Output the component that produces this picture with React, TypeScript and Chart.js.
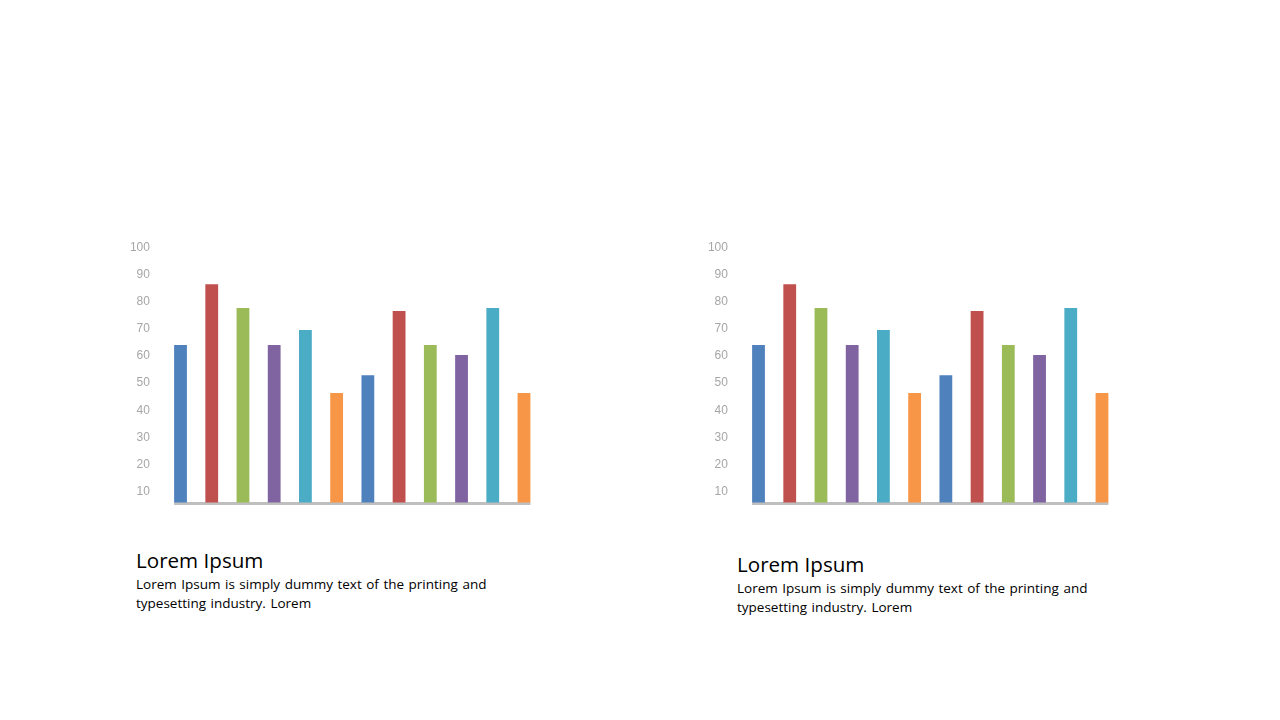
import { useEffect, useRef } from 'react';
import { Chart, registerables } from 'chart.js';

Chart.register(...registerables);

// data
const categories = ['1', '2', '3', '4', '5', '6', '7', '8', '9', '10', '11', '12'];
const leftValues = [64, 86.4, 77.6, 64, 69.5, 46.3, 52.9, 76.5, 64, 60.3, 77.6, 46.3];
const rightValues = [64, 86.4, 77.6, 64, 69.5, 46.3, 52.9, 76.5, 64, 60.3, 77.6, 46.3];
const yTicks = [10, 20, 30, 40, 50, 60, 70, 80, 90, 100];
const yMin = 6;
const yMax = 100;

const palette = ['#4F81BD', '#C0504D', '#9BBB59', '#8064A2', '#4BACC6', '#F79646'];

const titleText = 'Lorem Ipsum';
const bodyLine1 = 'Lorem Ipsum is simply dummy text of the printing and';
const bodyLine2 = 'typesetting industry. Lorem';

// grey base line under the bars, spanning first bar to last bar
const baseLine = {
  id: 'baseLine',
  beforeDatasetsDraw(chart: any) {
    const meta = chart.getDatasetMeta(0);
    if (!meta.data.length) return;
    const first = meta.data[0];
    const last = meta.data[meta.data.length - 1];
    const x0 = first.x - first.width / 2;
    const x1 = last.x + last.width / 2;
    const y = chart.chartArea.bottom;
    const ctx = chart.ctx;
    ctx.save();
    ctx.fillStyle = '#bfbfbf';
    ctx.fillRect(x0, y - 0.5, x1 - x0, 3);
    ctx.restore();
  },
};

interface BarsProps {
  values: number[];
  left: number;
}

const Bars: React.FC<BarsProps> = ({ values, left }) => {
  const chartRef = useRef<HTMLCanvasElement>(null);
  const chartInstanceRef = useRef<Chart | null>(null);

  useEffect(() => {
    if (chartInstanceRef.current) {
      chartInstanceRef.current.destroy();
    }
    if (!chartRef.current) return;
    const ctx = chartRef.current.getContext('2d');
    if (!ctx) return;

    chartInstanceRef.current = new Chart(ctx, {
      type: 'bar',
      data: {
        labels: categories,
        datasets: [
          {
            data: values,
            backgroundColor: categories.map((_, i) => palette[i % palette.length]),
            categoryPercentage: 1,
            barPercentage: 0.41,
          },
        ],
      },
      options: {
        animation: false,
        responsive: true,
        maintainAspectRatio: false,
        layout: { padding: { top: 17.3, bottom: 17.5, left: 0, right: 10.4 } },
        plugins: {
          legend: { display: false },
          tooltip: { enabled: false },
        },
        scales: {
          x: { display: false },
          y: {
            min: yMin,
            max: yMax,
            grid: { display: false, drawTicks: false },
            border: { display: false },
            afterBuildTicks: (axis: any) => {
              axis.ticks = yTicks.map((v) => ({ value: v }));
            },
            afterFit: (axis: any) => {
              // fixed label column; layout padding handles top/bottom room
              axis.width = 64.9;
              axis.paddingTop = 0;
              axis.paddingBottom = 0;
            },
            ticks: {
              padding: 15,
              color: '#a6a6a6',
              font: { family: '"Liberation Sans", Arial, sans-serif', size: 12 },
            },
          },
        },
      },
      plugins: [baseLine],
    });

    return () => {
      if (chartInstanceRef.current) {
        chartInstanceRef.current.destroy();
        chartInstanceRef.current = null;
      }
    };
  }, [values]);

  return (
    <div style={{ position: 'absolute', left, top: 230, width: 450, height: 290 }}>
      <canvas ref={chartRef}></canvas>
    </div>
  );
};

interface CaptionProps {
  left: number;
  top: number;
}

const Caption: React.FC<CaptionProps> = ({ left, top }) => (
  <div style={{ position: 'absolute', left, top, fontFamily: '"Open Sans", sans-serif', color: '#000', whiteSpace: 'nowrap' }}>
    <div style={{ fontSize: 20.6, lineHeight: '24px' }}>{titleText}</div>
    <div style={{ fontSize: 13.5, lineHeight: '19px', marginTop: 3, wordSpacing: 1 }}>
      {bodyLine1}
      <br />
      {bodyLine2}
    </div>
  </div>
);

export default function App() {
  return (
    <div style={{ position: 'absolute', left: 0, top: 0, width: 1280, height: 720, background: '#fff', overflow: 'hidden' }}>
      <Bars values={leftValues} left={100} />
      <Bars values={rightValues} left={678} />
      <Caption left={136} top={548} />
      <Caption left={737} top={552} />
    </div>
  );
}
